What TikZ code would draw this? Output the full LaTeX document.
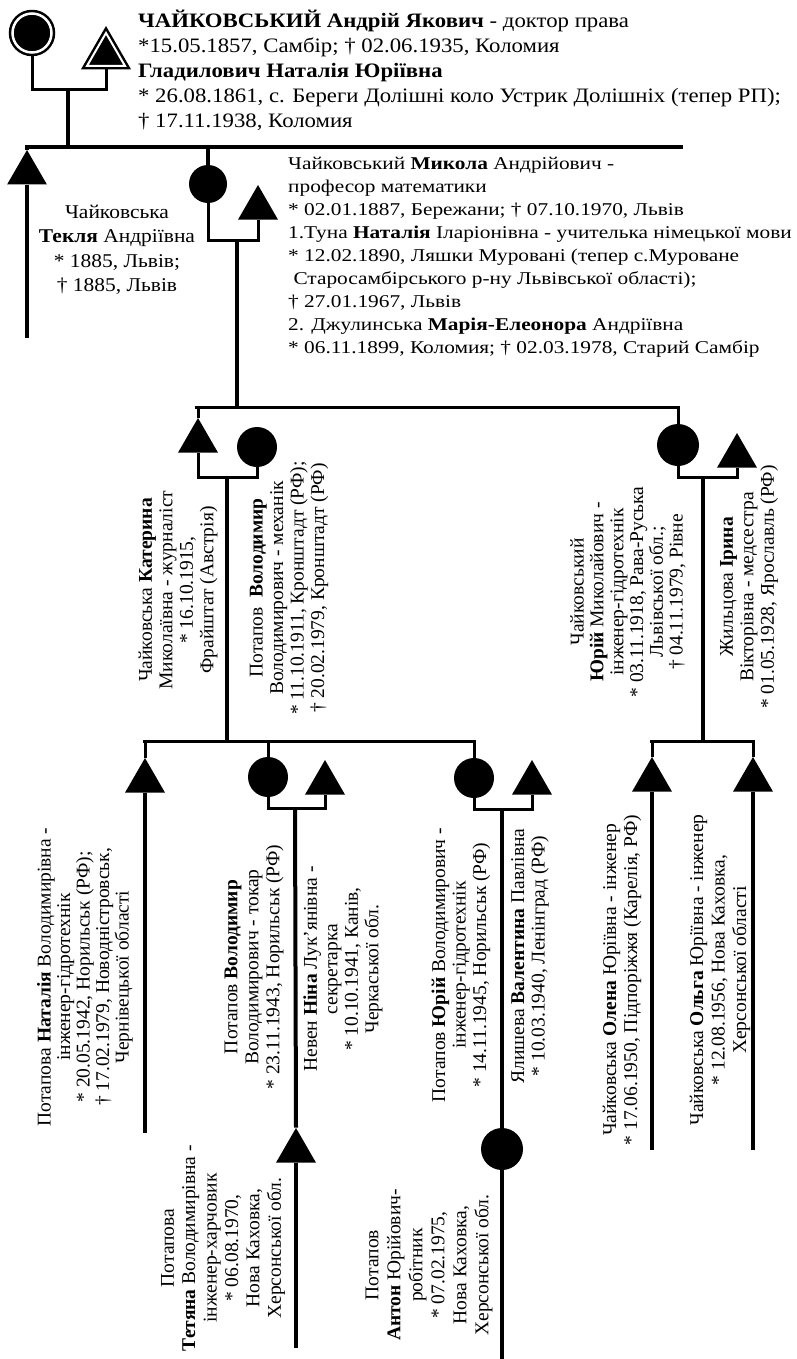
\documentclass[tikz,border=0pt]{standalone}
\usepackage{fontspec}
\setmainfont{Liberation Serif}
\newfontfamily\headserif{Liberation Serif}[FakeStretch=1.11]
\newfontfamily\horizserif{Liberation Serif}[FakeStretch=1.185]
\newfontfamily\tekserif{Liberation Serif}[FakeStretch=1.1]
\usetikzlibrary{shapes.geometric}

\begin{document}
\begin{tikzpicture}[x=1pt,y=-1pt,
  man/.style={circle,fill=black,inner sep=0pt,minimum size=40pt},
  woman/.style={regular polygon,regular polygon sides=3,fill=black,inner sep=0pt,minimum size=46pt},
  bar/.style={line width=4.5pt},
  stem/.style={line width=4pt},
  link/.style={line width=3pt},
  flattext/.style={inner sep=0pt,font=\horizserif\fontsize{18}{22.9}\selectfont},
  sidetext/.style={inner sep=0pt,align=center,rotate=90,font=\rmfamily\fontsize{19.5}{20.5}\selectfont},
  sidetextat/.style={sidetext,font=\rmfamily\fontsize{19.5}{#1}\selectfont},
]
\useasboundingbox (0,0) rectangle (797,1359);
\fill[white] (0,0) rectangle (797,1359);

% ---------- founders ----------
\node[circle,fill=black,inner sep=0pt,minimum size=39pt,draw=black,double=white,double distance=2.5pt,line width=2.5pt] (andriy) at (32,33) {};
\node[woman,minimum size=44pt,draw=black,double=white,double distance=2pt,line width=2.5pt] (natalia0) at (106,55) {};
\coordinate (j0) at (68,90);
\draw[link] (andriy.south) |- (j0) -| (natalia0.south);

% the base anchor of a multi-line node sits on its last line
\node[anchor=base west,align=left,inner sep=0pt,font=\headserif\fontsize{20.5}{25}\selectfont] (headtext) at (138,128)
{\textbf{ЧАЙКОВСЬКИЙ Андрій Якович} - доктор права\\
*15.05.1857, Самбір; † 02.06.1935, Коломия\\
\textbf{Гладилович Наталія Юріївна}\\
* 26.08.1861, с. Береги Долішні коло Устрик Долішніх (тепер РП);\\
† 17.11.1938, Коломия};

% ---------- generation 2 ----------
\coordinate (b1L) at (25,147);
\coordinate (b1R) at (683,147);
\draw[bar] (b1L) -- (b1R);
\draw[stem] (j0) -- (j0 |- b1L);

\node[woman] (teklya) at (27,173) {};
\coordinate (tekend) at (27,338);
\draw[stem] (tekend |- b1L) -- (teklya.north);
\draw[stem] (teklya.south) -- (tekend);
\node[inner sep=0pt,align=center,anchor=base,font=\tekserif\fontsize{19.5}{24.5}\selectfont] (tekltext) at (117,291.5)
{Чайковська\\ \textbf{Текля} Андріївна\\ * 1885, Львів;\\ † 1885, Львів};

\node[man,minimum size=38pt] (mykola) at (208,184) {};
\draw[stem] (mykola.north |- b1L) -- (mykola.north);
\node[woman] (nataliat) at (258,208) {};
\coordinate (j1) at (237,240);
\draw[link] (mykola.south) |- (j1) -| (nataliat.south);

\node[flattext,align=left,anchor=base west] (mykolatext) at (288,353)
{Чайковський \textbf{Микола} Андрійович -\\
професор математики\\
* 02.01.1887, Бережани; † 07.10.1970, Львів\\
1.Туна \textbf{Наталія} Іларіонівна - учителька німецької мови\\
* 12.02.1890, Ляшки Муровані (тепер с.Муроване\\
\ Старосамбірського р-ну Львівської області);\\
† 27.01.1967, Львів\\
2. Джулинська \textbf{Марія-Елеонора} Андріївна\\
* 06.11.1899, Коломия; † 02.03.1978, Старий Самбір};

% ---------- generation 3 ----------
\coordinate (b2L) at (195,407);
\coordinate (b2R) at (680,407);
\draw[stem] (j1) -- (j1 |- b2L);
\draw[link] (b2L) -- (b2R);

\node[woman] (kateryna) at (198,441) {};
\draw[link] (kateryna.north |- b2L) -- (kateryna.north);
\node[man] (volodymyr) at (257,447) {};
\coordinate (j2) at (227,477);
\draw[link] (kateryna.south) |- (j2) -| (volodymyr.south);

\node[man,minimum size=42pt] (yuriy) at (678,445) {};
\draw[link] (yuriy.north |- b2R) -- (yuriy.north);
\node[woman] (iryna) at (737,456) {};
\coordinate (j3) at (703,477);
\draw[link] (yuriy.south) |- (j3) -| (iryna.south);

\node[sidetext] (katerynatext) at (178,590)
{Чайковська \textbf{Катерина}\\ Миколаївна - журналіст\\ * 16.10.1915,\\ Фрайштат (Австрія)};
\node[sidetext] (volodymyrtext) at (289,588)
{Потапов \ \textbf{Володимир}\\ Володимирович - механік\\ * 11.10.1911, Кронштадт (РФ);\\ † 20.02.1979, Кронштадт (РФ)};
\node[sidetextat=19.8] (yuriytext) at (628,592)
{Чайковський\\ \textbf{Юрій} Миколайович -\\ інженер-гідротехнік\\ * 03.11.1918, Рава-Руська\\ Львівської обл.;\\ † 04.11.1979, Рівне};
\node[sidetext] (irynatext) at (749,587)
{Жильцова \textbf{Ірина}\\ Вікторівна - медсестра\\ * 01.05.1928, Ярославль (РФ)};

% ---------- generation 4 ----------
\coordinate (b3L) at (143,741);
\coordinate (b3R) at (476,741);
\coordinate (b4L) at (650,741);
\coordinate (b4R) at (755,741);
\draw[stem] (j2) -- (j2 |- b3L);
\draw[stem] (j3) -- (j3 |- b4L);
\draw[link] (b3L) -- (b3R);
\draw[link] (b4L) -- (b4R);

\node[woman] (nataliya) at (145,781) {};
\coordinate (natend) at (145,1133);
\draw[link] (nataliya.north |- b3L) -- (nataliya.north);
\draw[stem] (nataliya.south) -- (natend);

\node[man] (volodymyrj) at (268,777) {};
\draw[link] (volodymyrj.north |- b3L) -- (volodymyrj.north);
\node[woman] (nina) at (325,783) {};
\coordinate (j4) at (295,808);
\draw[link] (volodymyrj.south) |- (j4) -| (nina.south);

\node[man] (yuriyj) at (474,778) {};
\draw[link] (yuriyj.north |- b3L) -- (yuriyj.north);
\node[woman] (valentyna) at (532,783) {};
\coordinate (j5) at (502,809);
\draw[link] (yuriyj.south) |- (j5) -| (valentyna.south);

\node[woman] (olena) at (652,780) {};
\coordinate (olenend) at (652,1150);
\draw[link] (olena.north |- b4L) -- (olena.north);
\draw[stem] (olena.south) -- (olenend);
\node[woman] (olga) at (753,780) {};
\coordinate (olgaend) at (753,1150);
\draw[link] (olga.north |- b4L) -- (olga.north);
\draw[stem] (olga.south) -- (olgaend);

\node[sidetextat=19.5] (nataliyatext) at (85,977)
{Потапова \textbf{Наталія} Володимирівна -\\ інженер-гідротехнік\\ * 20.05.1942, Норильськ (РФ);\\ † 17.02.1979, Новодністровськ,\\ Чернівецької області};
\node[sidetextat=21] (volodymyrjtext) at (254,967)
{Потапов \textbf{Володимир}\\ Володимирович - токар\\ * 23.11.1943, Норильськ (РФ)};
\node[sidetext] (ninatext) at (343,969)
{Невен \textbf{Ніна} Лук’янівна -\\ секретарка\\ * 10.10.1941, Канів,\\ Черкаської обл.};
\node[sidetext] (yuriyjtext) at (461,965)
{Потапов \textbf{Юрій} Володимирович -\\ інженер-гідротехнік\\ * 14.11.1945, Норильськ (РФ)};
\node[sidetext] (valentynatext) at (530,956)
{Ялишева \textbf{Валентина} Павлівна\\ * 10.03.1940, Ленінград (РФ)};
\node[sidetextat=21] (olenatext) at (622,980)
{Чайковська \textbf{Олена} Юріївна - інженер\\ * 17.06.1950, Підпоріжжя (Карелія, РФ)};
\node[sidetextat=21.5] (olgatext) at (720,970)
{Чайковська \textbf{Ольга} Юріївна - інженер\\ * 12.08.1956, Нова Каховка,\\ Херсонської області};

% ---------- generation 5 ----------
\node[woman] (tetyana) at (296,1151) {};
\coordinate (tetend) at (296,1348);
\draw[stem] (j4) -- (tetyana.north);
\draw[stem] (tetyana.south) -- (tetend);

\node[man,minimum size=42pt] (anton) at (502,1149) {};
\coordinate (antend) at (502,1359);
\draw[stem] (j5) -- (anton.north);
\draw[stem] (anton.south) -- (antend);

\node[sidetextat=21.4] (tetyanatext) at (223,1248)
{Потапова\\ \textbf{Тетяна} Володимирівна -\\ інженер-харчовик\\ * 06.08.1970,\\ Нова Каховка,\\ Херсонської обл.};
\node[sidetextat=22] (antontext) at (429,1265)
{Потапов\\ \textbf{Антон} Юрійович-\\ робітник\\ * 07.02.1975,\\ Нова Каховка,\\ Херсонської обл.};
\end{tikzpicture}
\end{document}
